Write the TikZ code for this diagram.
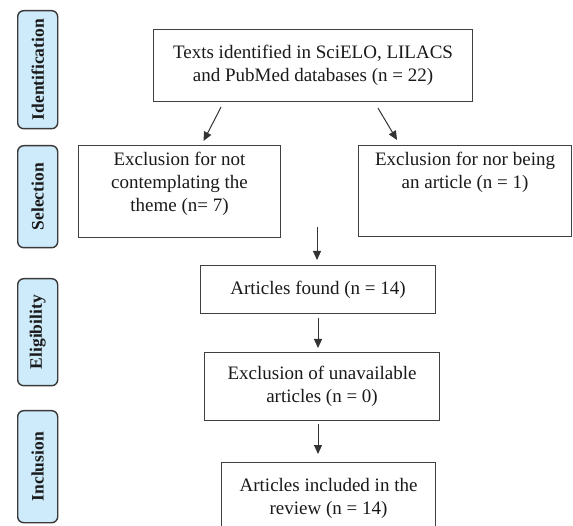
\documentclass[tikz,border=0pt]{standalone}
\usepackage{fontspec}
\setmainfont{Liberation Serif}
\usetikzlibrary{arrows.meta,calc}
\definecolor{sidefill}{HTML}{CDEBFA}
\definecolor{sideline}{HTML}{3A3A3A}
\definecolor{boxline}{HTML}{404040}
\definecolor{txt}{HTML}{1A1A1A}
\tikzset{
  sidebox/.style={draw=sideline, line width=1.4pt, fill=sidefill, rounded corners=6pt, minimum width=40pt, inner sep=0pt, anchor=north west},
  sidetext/.style={rotate=90, font=\fontsize{17.5}{20}\selectfont\bfseries, text=txt},
  flowbox/.style={draw=boxline, line width=1.1pt, anchor=north west, inner sep=0pt, text=txt},
  flowtext/.style={font=\fontsize{19}{23}\selectfont, text=txt, align=center},
  arr/.style={draw=black!80, line width=1pt, -{Triangle[length=9pt,width=8pt]}}
}
\begin{document}
\begin{tikzpicture}[x=1pt,y=-1pt]
\useasboundingbox (0,0) rectangle (573,526);
\clip (0,0) rectangle (573,526);
\fill[white] (0,0) rectangle (573,526);
% side labels
\node[sidebox, minimum height=118pt] (sid) at (17,10) {};
\node[sidetext] (sidt) at (sid.center) {Identification};
\node[sidebox, minimum height=102pt] (ssel) at (17,145) {};
\node[sidetext] (sselt) at (ssel.center) {Selection};
\node[sidebox, minimum height=107pt] (selig) at (17,278) {};
\node[sidetext] (seligt) at (selig.center) {Eligibility};
\node[sidebox, minimum height=112pt] (sinc) at (17,410) {};
\node[sidetext] (sinct) at (sinc.center) {Inclusion};
% flow boxes
\node[flowbox, minimum width=319pt, minimum height=72pt] (main) at (153,29) {};
\node[flowtext, anchor=center] (maint) at (main.center) {Texts identified in SciELO, LILACS\\and PubMed databases (n = 22)};
\node[flowbox, minimum width=202pt, minimum height=92pt] (selL) at (78,145) {};
\node[flowtext, anchor=north] (selLt) at ($(selL.north)+(0,4)$) {Exclusion for not\\contemplating the\\theme (n= 7)};
\node[flowbox, minimum width=213pt, minimum height=91pt] (selR) at (358,145) {};
\node[flowtext, anchor=north] (selRt) at ($(selR.north)+(0,4)$) {Exclusion for nor being\\an article (n = 1)};
\node[flowbox, minimum width=235pt, minimum height=48pt] (found) at (200,265) {};
\node[flowtext, anchor=center] (foundt) at (found.center) {Articles found (n = 14)};
\node[flowbox, minimum width=235pt, minimum height=68pt] (unav) at (204,352) {};
\node[flowtext, anchor=center] (unavt) at (unav.center) {Exclusion of unavailable\\articles (n = 0)};
\node[flowbox, minimum width=214pt, minimum height=90pt] (incl) at (221,462) {};
\node[flowtext, anchor=north] (inclt) at ($(incl.north)+(0,13)$) {Articles included in the\\review (n = 14)};
% arrow end points
\coordinate (a1s) at ($(main.south west)+(68,5)$);
\coordinate (a1e) at ($(selL.north)+(24,-4)$);
\coordinate (a2s) at ($(main.south west)+(225,6)$);
\coordinate (a2e) at ($(selR.north west)+(39,-5)$);
\coordinate (a3s) at (317,227);
\coordinate (a3e) at ($(found.north west)+(117,-5)$);
\coordinate (a4s) at ($(found.south west)+(118,4)$);
\coordinate (a4e) at ($(unav.north west)+(114,-4)$);
\coordinate (a5s) at ($(unav.south west)+(114,3)$);
\coordinate (a5e) at ($(incl.north west)+(97,-8)$);
\draw[arr] (a1s) -- (a1e);
\draw[arr] (a2s) -- (a2e);
\draw[arr] (a3s) -- (a3e);
\draw[arr] (a4s) -- (a4e);
\draw[arr] (a5s) -- (a5e);
\end{tikzpicture}
\end{document}
